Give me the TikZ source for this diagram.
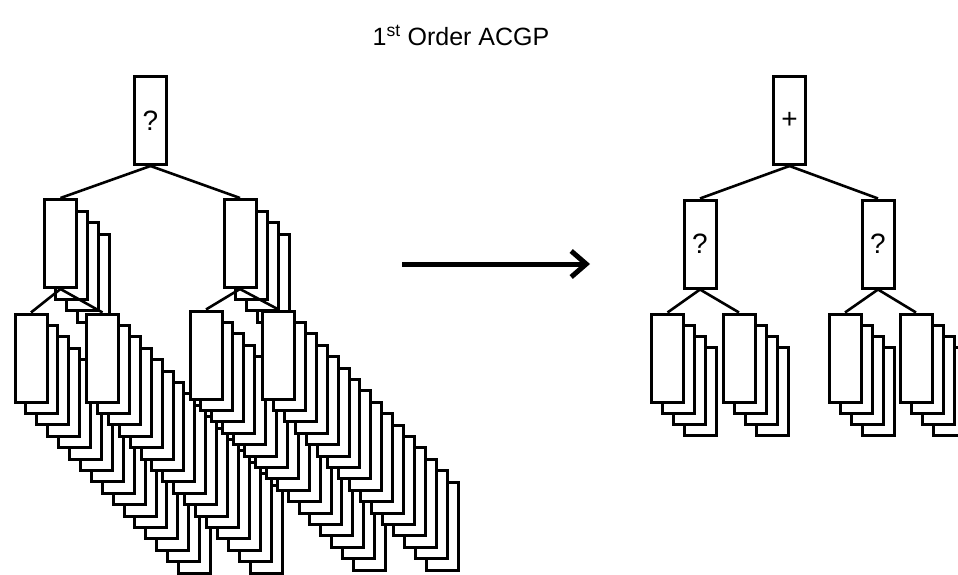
\documentclass[tikz,border=0pt]{standalone}
\usepackage{fontspec}
\setmainfont{Liberation Sans}
\usetikzlibrary{arrows.meta}

\begin{document}
\begin{tikzpicture}[
  x=1pt, y=-1pt,
  box/.style={draw=black, fill=white, line width=3pt,
              minimum width=32pt, minimum height=88pt, inner sep=0pt,
              font=\fontsize{28}{30}\selectfont},
  link/.style={line width=2.6pt},
  arr/.style={-{Straight Barb[length=15pt, width=26pt]}, line width=5pt}
]
  \useasboundingbox (0,0) rectangle (958,575);
  \clip (0,0) rectangle (958,575);

  \node[font=\fontsize{25}{30}\selectfont, anchor=base] (title) at (461,46)
    {1\textsuperscript{st} Order ACGP};

  % left tree: root and level 1 stacks
  \node[box] (rootL) at (150.5,120.5) {?};
  \foreach \j in {3,2,1}{
    \node[box] (la-\j) at ({60.5+11*\j},{243.5+11.5*\j}) {};
    \node[box] (lb-\j) at ({240+11*\j},{243.5+11.5*\j}) {};
  }
  \node[box] (la-0) at (60.5,243.5) {};
  \node[box] (lb-0) at (240,243.5) {};

  % left tree: level 2, one group of four per level 1 box
  \foreach \j in {3,2,1,0}{
    \foreach \k in {3,2,1,0}{
      \pgfmathtruncatemacro{\n}{4*\j+\k}
      \node[box] (A-\n) at ({31+10.9*\n},{358+11.4*\n}) {};
      \node[box] (B-\n) at ({102.5+10.9*\n},{358+11.4*\n}) {};
      \node[box] (C-\n) at ({206+10.9*\n},{355+11.4*\n}) {};
      \node[box] (D-\n) at ({278.5+10.9*\n},{355+11.4*\n}) {};
    }
  }

  \draw[link] (rootL.south) -- (la-0.north);
  \draw[link] (rootL.south) -- (lb-0.north);
  \draw[link] (la-0.south) -- (A-0.north);
  \draw[link] (la-0.south) -- (B-0.north);
  \draw[link] (lb-0.south) -- (C-0.north);
  \draw[link] (lb-0.south) -- (D-0.north);

  % arrow
  \coordinate (arrS) at (402,264);
  \coordinate (arrE) at (590,264);
  \draw[arr] (arrS) -- (arrE);

  % right tree
  \node[box] (rootR) at (789.5,120.5) {+};
  \node[box] (ra) at (700,244) {?};
  \node[box] (rb) at (878,244) {?};
  \foreach \k in {3,2,1,0}{
    \node[box] (E-\k) at ({667.5+11*\k},{358+11*\k}) {};
    \node[box] (F-\k) at ({739+11*\k},{358+11*\k}) {};
    \node[box] (G-\k) at ({845+11*\k},{358+11*\k}) {};
    \node[box] (H-\k) at ({916+11*\k},{358+11*\k}) {};
  }

  \draw[link] (rootR.south) -- (ra.north);
  \draw[link] (rootR.south) -- (rb.north);
  \draw[link] (ra.south) -- (E-0.north);
  \draw[link] (ra.south) -- (F-0.north);
  \draw[link] (rb.south) -- (G-0.north);
  \draw[link] (rb.south) -- (H-0.north);
\end{tikzpicture}
\end{document}
